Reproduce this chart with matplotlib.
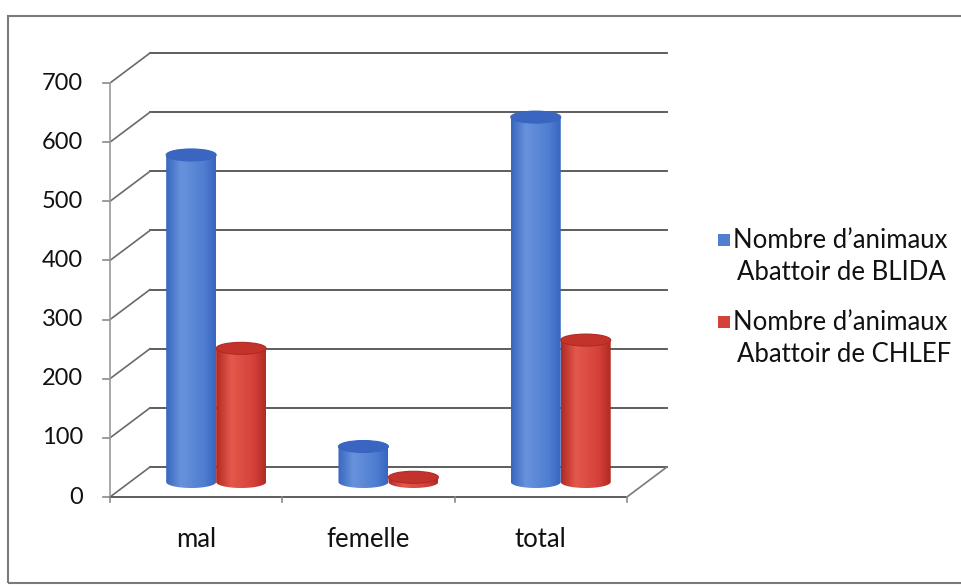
import numpy as np
import matplotlib.pyplot as plt
from matplotlib.colors import LinearSegmentedColormap
from matplotlib.patches import Ellipse, PathPatch, Rectangle
from matplotlib.path import Path

plt.rcParams["font.family"] = ["Lato", "DejaVu Sans"]

categories = ["mal", "femelle", "total"]
blida = [553, 60, 617]
chlef = [226, 8, 240]
series_names = ["Nombre d\u2019animaux\nAbattoir de BLIDA",
                "Nombre d\u2019animaux\nAbattoir de CHLEF"]
yticks = [0, 100, 200, 300, 400, 500, 600, 700]

# pixel layout of the pseudo-3D frame
W, H = 962, 587
X0_PX, CAT_PX = 110, 172.3      # front axis x, width of one category
Y0_PX, PX_PER_UNIT = 497, 0.5914
DX = 40 / CAT_PX                 # depth offset of the back wall
DY = 30 / PX_PER_UNIT
BAR_W = 0.29
CAP_H = 12 / PX_PER_UNIT

blue = ["#3866bf", "#6892dc", "#4f7fd2", "#3866bf"]
red = ["#b02a23", "#e4584b", "#d5413a", "#b02a23"]
blue_cap, red_cap = "#3a65c0", "#c4332b"
TXT = "#111111"

fig = plt.figure(figsize=(W / 100, H / 100), dpi=100)
ax = fig.add_axes([0, 0, 1, 1])
ax.set_xlim(-X0_PX / CAT_PX, (W - X0_PX) / CAT_PX)
ax.set_ylim((Y0_PX - H) / PX_PER_UNIT, Y0_PX / PX_PER_UNIT)
ax.axis("off")

n = len(categories)
grid_c = "#505050"

# back wall gridlines and the side-wall diagonals
for v in yticks:
    ax.plot([DX, n + DX], [v + DY, v + DY], color=grid_c, lw=1.3, zorder=1)
    ax.plot([0, DX], [v, v + DY], color="#6a6a6a", lw=1.2, zorder=1)
    ax.plot([-7 / CAT_PX, 0], [v, v], color="#8a8a8a", lw=1.2, zorder=1)
    ax.text(-27 / CAT_PX, v, str(v), ha="right", va="center",
            fontsize=17, color=TXT)

# front axis and floor
ax.plot([0, 0], [0, yticks[-1]], color="#9a9a9a", lw=1.2, zorder=1)
ax.plot([0, n], [0, 0], color=grid_c, lw=1.3, zorder=1)
ax.plot([n, n + DX], [0, DY], color="#7a7a7a", lw=1.2, zorder=1)
for i in range(n + 1):
    ax.plot([i, i], [0, -9], color="#8a8a8a", lw=1.2, zorder=1)
for i, cat in enumerate(categories):
    ax.text(i + 0.5, -72, cat, ha="center", va="center", fontsize=18.5,
            color=TXT)


def cylinder(xc, value, colors, cap, z):
    x0, x1 = xc - BAR_W / 2, xc + BAR_W / 2
    y0, y1 = DY / 2, DY / 2 + value
    t = np.linspace(np.pi, 2 * np.pi, 40)
    arc_x = xc + BAR_W / 2 * np.cos(t)
    arc_y = y0 + CAP_H / 2 * np.sin(t)
    verts = list(zip(arc_x, arc_y)) + [(x1, y1), (x0, y1), (arc_x[0], arc_y[0])]
    codes = [Path.MOVETO] + [Path.LINETO] * (len(verts) - 2) + [Path.CLOSEPOLY]
    body = PathPatch(Path(verts, codes), facecolor="none", edgecolor="none")
    ax.add_patch(body)
    cmap = LinearSegmentedColormap.from_list(
        "c", list(zip([0, 0.3, 0.75, 1], colors)))
    grad = np.linspace(0, 1, 256).reshape(1, -1)
    img = ax.imshow(grad, cmap=cmap, extent=(x0, x1, y0 - CAP_H, y1),
                    aspect="auto", origin="lower", zorder=z)
    img.set_clip_path(body)
    ax.add_patch(Ellipse((xc, y1), BAR_W, CAP_H, facecolor=cap,
                         edgecolor=colors[0], lw=0.8, zorder=z + 0.1))


for i in range(n):
    base = i + 0.5 + DX / 2
    cylinder(base - BAR_W / 2, blida[i], blue, blue_cap, 3)
    cylinder(base + BAR_W / 2, chlef[i], red, red_cap, 4)

ax.set_xlim(-X0_PX / CAT_PX, (W - X0_PX) / CAT_PX)
ax.set_ylim((Y0_PX - H) / PX_PER_UNIT, Y0_PX / PX_PER_UNIT)

# legend
for k, (name, col) in enumerate(zip(series_names, [blue[2], red[2]])):
    ytop = 240 + k * 82
    fig.patches.append(Rectangle((718 / W, 1 - (ytop + 6) / H), 12 / W, 12 / H,
                                 transform=fig.transFigure, facecolor=col,
                                 edgecolor="none"))
    first, second = name.split("\n")
    fig.text(733 / W, 1 - ytop / H, first, ha="left", va="center",
             fontsize=18.5, color=TXT)
    fig.text(737 / W, 1 - (ytop + 32) / H, second, ha="left", va="center",
             fontsize=18.5, color=TXT)

# outer chart border
fig.patches.append(Rectangle((8 / W, 1 - 583 / H), 960 / W, 567 / H,
                             transform=fig.transFigure, facecolor="none",
                             edgecolor="#7a7a7a", lw=1.5))

fig.savefig("out.png", dpi=100)
